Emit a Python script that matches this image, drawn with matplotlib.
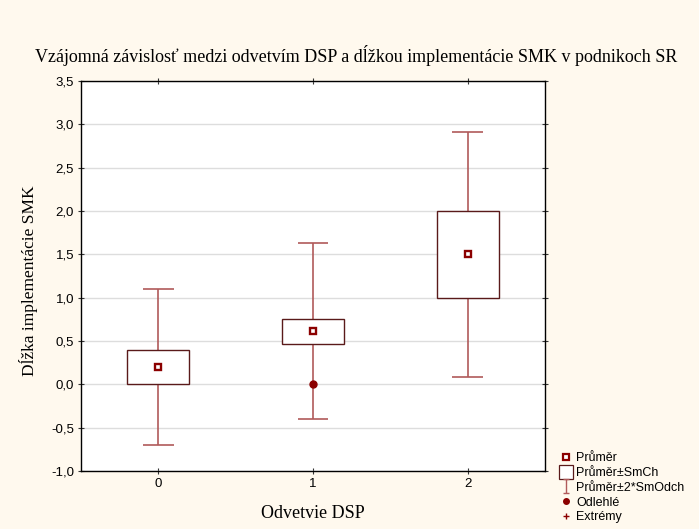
import matplotlib
matplotlib.use("Agg")
import matplotlib.pyplot as plt
from matplotlib.lines import Line2D
from matplotlib.path import Path
import numpy as np

categories = ["0", "1", "2"]
means = [0.20, 0.62, 1.50]
box_low = [0.00, 0.47, 1.00]
box_high = [0.40, 0.75, 2.00]
whisk_low = [-0.70, -0.40, 0.08]
whisk_high = [1.10, 1.63, 2.91]
outlier_x = [1]
outlier_y = [0.00]

yticks = [-1.0, -0.5, 0.0, 0.5, 1.0, 1.5, 2.0, 2.5, 3.0, 3.5]

bg = "#FFF9EE"
whisk_col = "#B05A5A"
box_col = "#5A1A1A"
mean_col = "#8B0000"

fig = plt.figure(figsize=(6.99, 5.29), dpi=100, facecolor=bg)
W, H = 699, 529
ax = fig.add_axes([81 / W, (H - 471) / H, (545 - 81) / W, (471 - 81) / H])
ax.set_facecolor("white")

x = np.arange(len(categories))
bw = 0.4
cw = 0.2
for i in x:
    ax.vlines(i, whisk_low[i], box_low[i], color=whisk_col, lw=1.2, zorder=2)
    ax.vlines(i, box_high[i], whisk_high[i], color=whisk_col, lw=1.2, zorder=2)
    ax.hlines([whisk_low[i], whisk_high[i]], i - cw / 2, i + cw / 2, color=whisk_col, lw=1.2, zorder=2)
    ax.add_patch(plt.Rectangle((i - bw / 2, box_low[i]), bw, box_high[i] - box_low[i],
                               facecolor="white", edgecolor=box_col, lw=1.0, zorder=3))
ax.plot(x, means, ls="none", marker="s", ms=5, mfc="white", mec=mean_col, mew=1.7, zorder=4)
ax.plot(outlier_x, outlier_y, ls="none", marker="o", ms=5, mfc=mean_col, mec=mean_col, zorder=4)

ax.set_xlim(-0.5, 2.5)
ax.set_ylim(-1.0, 3.5)
ax.set_xticks(x)
ax.set_xticklabels(categories, family="Liberation Sans", fontsize=9.5)
ax.set_yticks(yticks)
ax.set_yticklabels([f"{v:.1f}".replace(".", ",") for v in yticks], family="Liberation Sans", fontsize=9.5)
ax.yaxis.grid(True, color="#DDDDDD", lw=1.0)
ax.set_axisbelow(True)
ax.tick_params(axis="both", direction="inout", length=4, width=0.8, color="#333333",
               top=True, right=True, pad=3)
for s in ax.spines.values():
    s.set_color("black")
    s.set_linewidth(1.0)

serif = "Liberation Serif"
fig.text(356 / W, 1 - 56 / H, "Vzájomná závislosť medzi odvetvím DSP a dĺžkou implementácie SMK v podnikoch SR",
         ha="center", va="center", family=serif, fontsize=13)
fig.text(313 / W, 1 - 514 / H, "Odvetvie DSP", ha="center", va="center", family=serif, fontsize=13)
fig.text(29 / W, 1 - 281 / H, "Dĺžka implementácie SMK", ha="center", va="center",
         rotation=90, family=serif, fontsize=12.5)

ibeam = Path([(-0.5, -1), (0.5, -1), (0, -1), (0, 1), (-0.5, 1), (0.5, 1)],
             [Path.MOVETO, Path.LINETO, Path.MOVETO, Path.LINETO, Path.MOVETO, Path.LINETO])
handles = [
    Line2D([], [], ls="none", marker="s", ms=4, mfc="white", mec=mean_col, mew=1.6),
    Line2D([], [], ls="none", marker="s", ms=9.5, mfc="white", mec=box_col, mew=0.9),
    Line2D([], [], ls="none", marker=ibeam, ms=10, mec=whisk_col, mew=1.0),
    Line2D([], [], ls="none", marker="o", ms=4, mfc=mean_col, mec=mean_col),
    Line2D([], [], ls="none", marker="+", ms=4, mec=mean_col, mew=1.0),
]
labels = ["Průměr", "Průměr±SmCh", "Průměr±2*SmOdch", "Odlehlé", "Extrémy"]
leg = fig.legend(handles, labels, loc="upper left", bbox_to_anchor=(553 / W, 1 - 446 / H),
                 frameon=False, prop={"family": "Liberation Sans", "size": 9},
                 handlelength=1.0, handletextpad=0.35, labelspacing=0.22, borderpad=0)

fig.savefig("out.png", dpi=100, facecolor=bg)
